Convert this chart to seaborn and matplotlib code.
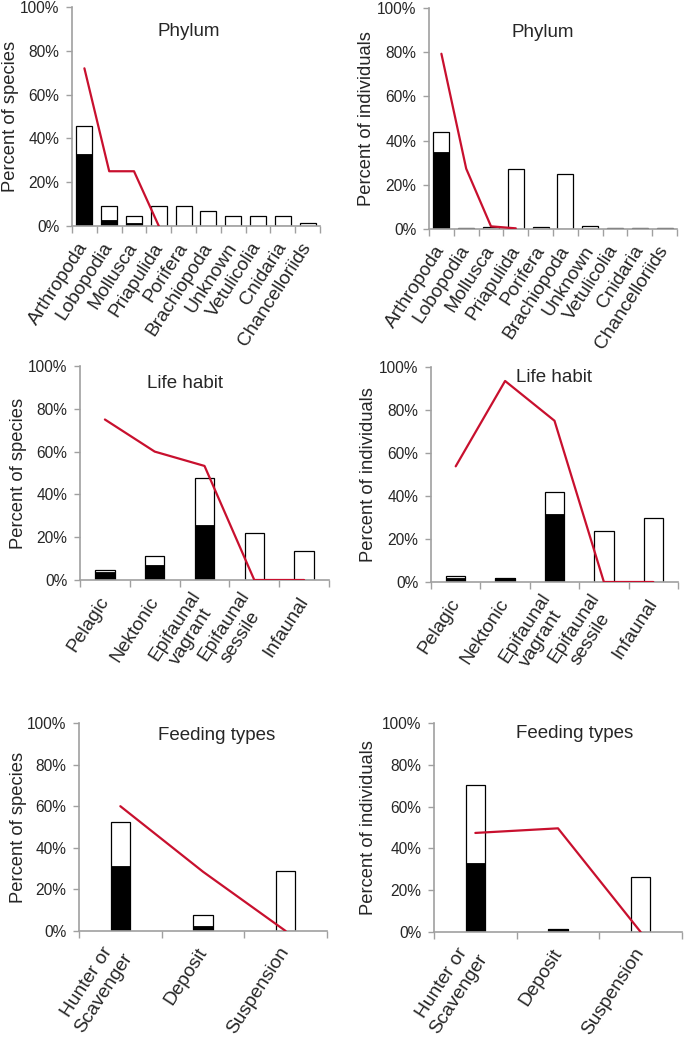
import matplotlib
matplotlib.use("Agg")
import matplotlib.pyplot as plt
import matplotlib.transforms as mtransforms
import numpy as np
import seaborn as sns
from matplotlib.ticker import PercentFormatter, FixedLocator

sns.set_style("ticks")
plt.rcParams['font.family'] = ['Liberation Sans', 'DejaVu Sans']

# categories
phylum = ['Arthropoda', 'Lobopodia', 'Mollusca', 'Priapulida', 'Porifera',
          'Brachiopoda', 'Unknown', 'Vetulicolia', 'Cnidaria', 'Chancelloriids']
habit = ['Pelagic', 'Nektonic', 'Epifaunal\nvagrant', 'Epifaunal\nsessile', 'Infaunal']
feeding = ['Hunter or\nScavenger', 'Deposit', 'Suspension']

# values in percent (white = total bar, black = lower part, red = line)
phylum_sp_total = [45.7, 9.3, 4.7, 9.3, 9.3, 7.0, 4.7, 4.7, 4.7, 1.2]
phylum_sp_black = [32.9, 2.6, 1.2, 0, 0, 0, 0, 0, 0, 0]
phylum_sp_line = [72.0, 25.0, 25.0, 0.0]

phylum_ind_total = [43.9, 0.5, 0.8, 27.1, 1.0, 24.9, 1.5, 0.5, 0.5, 0.5]
phylum_ind_black = [34.7, 0.5, 0, 0, 0, 0, 0, 0, 0, 0]
phylum_ind_line = [79.3, 27.3, 1.2, 0.3]

habit_sp_total = [4.7, 11.3, 47.8, 22.0, 13.7]
habit_sp_black = [3.7, 7.1, 25.8, 0, 0]
habit_sp_line = [75.0, 60.0, 53.3, 0.0, 0.0]

habit_ind_total = [2.9, 1.9, 41.7, 23.9, 29.9]
habit_ind_black = [1.9, 1.9, 31.6, 0, 0]
habit_ind_line = [53.8, 93.5, 75.0, 0.0, 0.0]

feed_sp_total = [52.2, 7.7, 28.8]
feed_sp_black = [31.4, 2.4, 0]
feed_sp_line = [60.0, 28.5, 0.0]

feed_ind_total = [70.3, 1.5, 26.2]
feed_ind_black = [33.2, 1.5, 0]
feed_ind_line = [47.4, 49.6, 0.0]

RED = '#c8102e'
GRAY = '#a0a0a0'


def panel(ax, cats, total, black, line, title, ylabel, width, tx, ty, lx):
    n = len(cats)
    sns.barplot(x=list(range(n)), y=np.array(total) / 100, color='white', saturation=1,
                edgecolor='black', linewidth=0.9, width=width, errorbar=None, ax=ax)
    sns.barplot(x=list(range(n)), y=np.array(black) / 100, color='black', saturation=1,
                edgecolor='black', linewidth=0.6, width=width, errorbar=None, ax=ax)
    ax.plot(range(len(line)), np.array(line) / 100, color=RED, lw=1.6, zorder=5)
    ax.set_xlim(-0.5, n - 0.5)
    ax.set_ylim(0, 1)
    ax.yaxis.set_major_formatter(PercentFormatter(1.0, decimals=0))
    ax.set_yticks(np.linspace(0, 1, 6))
    ax.set_xticks(range(n))
    ax.set_xticklabels(cats, rotation=57, ha='right', va='center',
                       rotation_mode='anchor', multialignment='center', fontsize=13.8)
    shift = mtransforms.ScaledTranslation(5 / 72, 0, fig.dpi_scale_trans)
    for lab in ax.get_xticklabels():
        lab.set_transform(lab.get_transform() + shift)
    ax.xaxis.set_minor_locator(FixedLocator(np.arange(n + 1) - 0.5))
    ax.tick_params(axis='x', which='major', length=0, pad=13)
    ax.tick_params(axis='x', which='minor', length=5, color=GRAY, width=1)
    ax.tick_params(axis='y', length=4, color=GRAY, width=1, labelsize=11.2, pad=5)
    ax.set_xlabel('')
    ax.set_ylabel(ylabel, fontsize=13.2)
    ax.yaxis.set_label_coords(lx, 0.5)
    sns.despine(ax=ax)
    for s in ['left', 'bottom']:
        ax.spines[s].set_color(GRAY)
        ax.spines[s].set_linewidth(1.2)
    ax.text(tx, ty, title, transform=ax.transAxes, ha='center', va='center', fontsize=13.5)


fig = plt.figure(figsize=(6.85, 10.48), dpi=100)
W, H = 685.0, 1048.0


def add(l, r, top, bot):
    return fig.add_axes([l / W, 1 - bot / H, (r - l) / W, (bot - top) / H])


ax1 = add(72, 320, 7, 226)
ax2 = add(429, 677, 8, 229)
ax3 = add(80, 329, 366, 580)
ax4 = add(431, 678, 367, 582)
ax5 = add(79, 327, 723, 931)
ax6 = add(434, 682, 723, 932)

panel(ax1, phylum, phylum_sp_total, phylum_sp_black, phylum_sp_line,
      'Phylum', 'Percent of species', 0.65, 0.47, 0.886, -0.214)
panel(ax2, phylum, phylum_ind_total, phylum_ind_black, phylum_ind_line,
      'Phylum', 'Percent of individuals', 0.65, 0.46, 0.887, -0.218)
panel(ax3, habit, habit_sp_total, habit_sp_black, habit_sp_line,
      'Life habit', 'Percent of species', 0.39, 0.42, 0.916, -0.213)
panel(ax4, habit, habit_ind_total, habit_ind_black, habit_ind_line,
      'Life habit', 'Percent of individuals', 0.39, 0.50, 0.953, -0.219)
panel(ax5, feeding, feed_sp_total, feed_sp_black, feed_sp_line,
      'Feeding types', 'Percent of species', 0.23, 0.556, 0.94, -0.210)
panel(ax6, feeding, feed_ind_total, feed_ind_black, feed_ind_line,
      'Feeding types', 'Percent of individuals', 0.23, 0.569, 0.95, -0.230)

fig.savefig('out.png', dpi=100)
